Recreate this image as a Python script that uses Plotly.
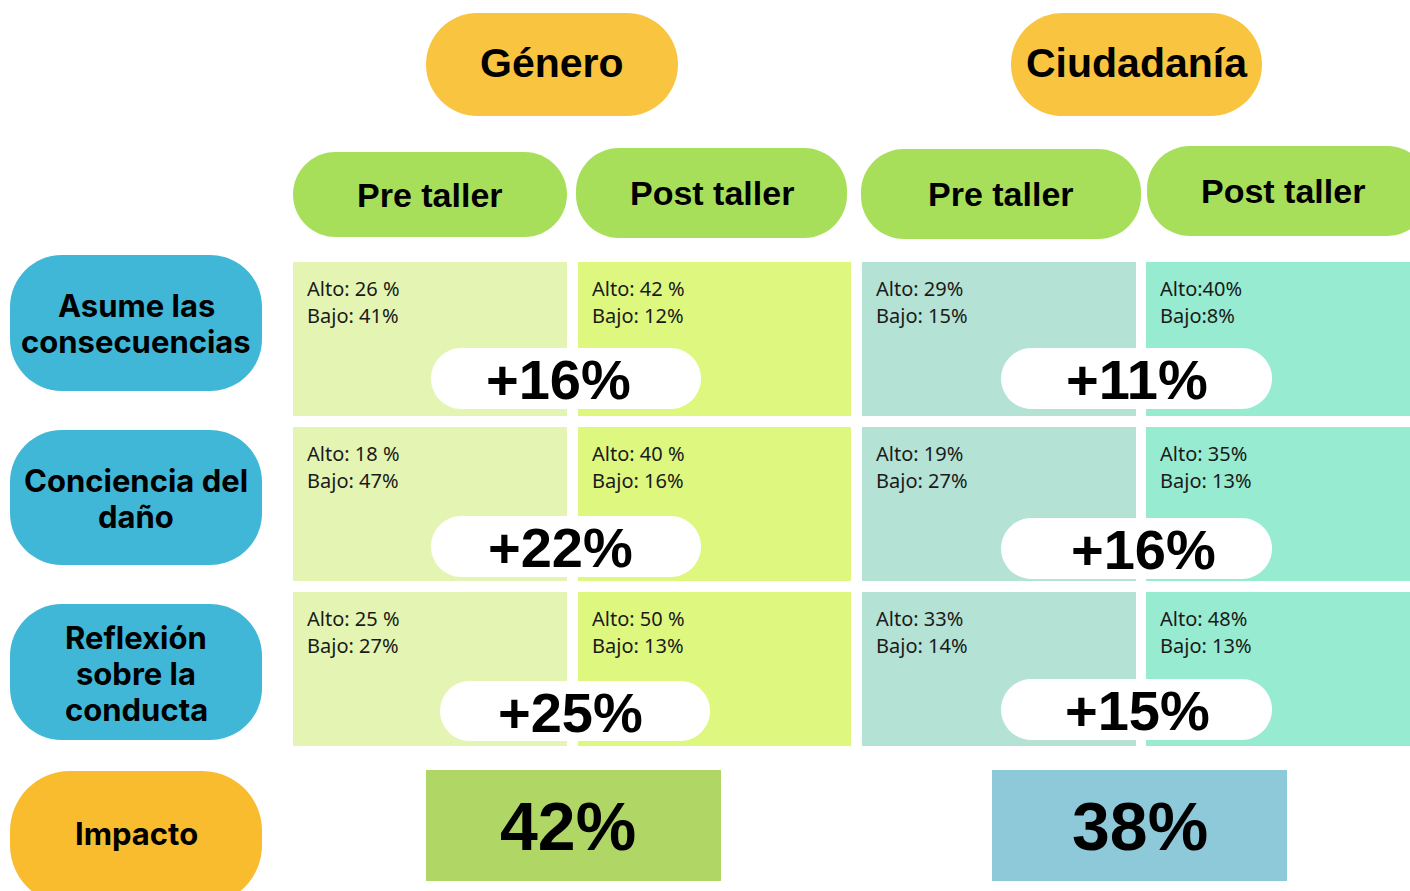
import plotly.graph_objects as go

# ---------------- data ----------------
row_labels = [["Asume las", "consecuencias"], ["Conciencia del", "daño"], ["Reflexión", "sobre la", "conducta"]]
group_labels = ["Género", "Ciudadanía"]
phase_labels = ["Pre taller", "Post taller"]

alto_genero_pre = ["Alto: 26 %", "Alto: 18 %", "Alto: 25 %"]
bajo_genero_pre = ["Bajo: 41%", "Bajo: 47%", "Bajo: 27%"]
alto_genero_post = ["Alto: 42 %", "Alto: 40 %", "Alto: 50 %"]
bajo_genero_post = ["Bajo: 12%", "Bajo: 16%", "Bajo: 13%"]
alto_ciud_pre = ["Alto: 29%", "Alto: 19%", "Alto: 33%"]
bajo_ciud_pre = ["Bajo: 15%", "Bajo: 27%", "Bajo: 14%"]
alto_ciud_post = ["Alto:40%", "Alto: 35%", "Alto: 48%"]
bajo_ciud_post = ["Bajo:8%", "Bajo: 13%", "Bajo: 13%"]

diff_genero = ["+16%", "+22%", "+25%"]
diff_ciud = ["+11%", "+16%", "+15%"]

impact_label = "Impacto"
impact_values = ["42%", "38%"]

# ---------------- layout / style ----------------
W, H = 1410, 891
BOLD = "Inter, Lato, Noto Sans, sans-serif"
BODY = "Noto Sans, Open Sans, sans-serif"
HELV = "Liberation Sans, Arial, sans-serif"

YELLOW = "#F9C440"
GREEN = "#A8DF5A"
BLUE = "#41B7D7"
ORANGE = "#F8BC2E"
cell_colors = ["#E4F5B3", "#DDF77F", "#B4E2D5", "#97EBD0"]
impact_colors = ["#B0D766", "#8DC9D9"]

col_x = [(293, 567), (578, 851), (862, 1136), (1146, 1410)]
row_y = [(262, 416), (427, 581), (592, 746)]
group_pills = [(426, 678, 13, 116), (1011, 1262, 13, 116)]
phase_pills = [(293, 567, 152, 237), (576, 847, 148, 238), (861, 1141, 149, 239), (1147, 1430, 146, 236)]
phase_text_x = [430, 712, 1001, 1283]
row_pills = [(10, 262, 255, 391), (10, 262, 430, 565), (10, 262, 604, 740)]
row_line_y = [[305, 341], [480, 516], [637, 673, 709]]
impact_pill = (10, 262, 771, 905)
diff_pills = [
    [(431, 701, 348, 409), (431, 701, 516, 577), (440, 710, 681, 741)],
    [(1001, 1272, 348, 409), (1001, 1272, 518, 579), (1001, 1272, 679, 740)],
]
diff_text_x = [[558, 560, 570], [1137, 1143, 1137]]
impact_boxes = [(426, 721, 770, 881), (992, 1287, 770, 881)]
impact_text_x = [568, 1140]

K = 0.5523


def rounded(x0, x1, y0, y1, r):
    r = min(r, (x1 - x0) / 2, (y1 - y0) / 2)
    k = r * K
    return (
        f"M{x0 + r},{y0} L{x1 - r},{y0} "
        f"C{x1 - r + k},{y0} {x1},{y0 + r - k} {x1},{y0 + r} "
        f"L{x1},{y1 - r} "
        f"C{x1},{y1 - r + k} {x1 - r + k},{y1} {x1 - r},{y1} "
        f"L{x0 + r},{y1} "
        f"C{x0 + r - k},{y1} {x0},{y1 - r + k} {x0},{y1 - r} "
        f"L{x0},{y0 + r} "
        f"C{x0},{y0 + r - k} {x0 + r - k},{y0} {x0 + r},{y0} Z"
    )


shapes = []
annotations = []


def text(x, y, s, family, size, color="black", xanchor="center"):
    annotations.append(dict(x=x, y=y, xref="x", yref="y", text=s, showarrow=False,
                            xanchor=xanchor, yanchor="middle",
                            font=dict(family=family, size=size, color=color)))


def pill(box, color, r):
    x0, x1, y0, y1 = box
    shapes.append(dict(type="path", path=rounded(x0, x1, y0, y1, r), xref="x", yref="y",
                       fillcolor=color, line=dict(width=0), layer="above"))


# group headers
for g, box in enumerate(group_pills):
    pill(box, YELLOW, 52)
    text((box[0] + box[1]) / 2, 63, f"<b>{group_labels[g]}</b>", HELV, 41)

# phase headers
for i, box in enumerate(phase_pills):
    pill(box, GREEN, 43)
    text(phase_text_x[i], (box[2] + box[3]) / 2, f"<b>{phase_labels[i % 2]}</b>", HELV, 34)

# row labels
for r, box in enumerate(row_pills):
    pill(box, BLUE, 52)
    for line, ly in zip(row_labels[r], row_line_y[r]):
        text((box[0] + box[1]) / 2, ly, f"<b>{line}</b>", BOLD, 31)

# cells
cell_alto = [alto_genero_pre, alto_genero_post, alto_ciud_pre, alto_ciud_post]
cell_bajo = [bajo_genero_pre, bajo_genero_post, bajo_ciud_pre, bajo_ciud_post]
for c, (x0, x1) in enumerate(col_x):
    for r, (y0, y1) in enumerate(row_y):
        shapes.append(dict(type="rect", x0=x0, x1=x1, y0=y0, y1=y1, xref="x", yref="y",
                           fillcolor=cell_colors[c], line=dict(width=0), layer="below"))
        text(x0 + 12, y0 + 26, cell_alto[c][r], BODY, 20, "#1a1a1a", "left")
        text(x0 + 12, y0 + 53, cell_bajo[c][r], BODY, 20, "#1a1a1a", "left")

# difference pills
for g, diffs in enumerate([diff_genero, diff_ciud]):
    for r, box in enumerate(diff_pills[g]):
        pill(box, "white", 31)
        text(diff_text_x[g][r], (box[2] + box[3]) / 2 + 1, f"<b>{diffs[r]}</b>", HELV, 56)

# impact
pill(impact_pill, ORANGE, 60)
text((impact_pill[0] + impact_pill[1]) / 2, 833, f"<b>{impact_label}</b>", BOLD, 31)
for g, box in enumerate(impact_boxes):
    x0, x1, y0, y1 = box
    shapes.append(dict(type="rect", x0=x0, x1=x1, y0=y0, y1=y1, xref="x", yref="y",
                       fillcolor=impact_colors[g], line=dict(width=0), layer="above"))
    text(impact_text_x[g], (y0 + y1) / 2, f"<b>{impact_values[g]}</b>", HELV, 68)

fig = go.Figure()
fig.add_trace(go.Scatter(x=[0, W], y=[0, H], mode="markers", marker=dict(opacity=0),
                         hoverinfo="skip", showlegend=False))
fig.update_layout(
    width=W, height=H, margin=dict(l=0, r=0, t=0, b=0),
    paper_bgcolor="white", plot_bgcolor="white",
    xaxis=dict(range=[0, W], visible=False, fixedrange=True),
    yaxis=dict(range=[H, 0], visible=False, fixedrange=True),
    shapes=shapes, annotations=annotations, showlegend=False,
)
fig.write_html("out.html", config={"displayModeBar": False},
               post_script="document.body.style.margin='0';document.body.style.overflow='hidden';")
